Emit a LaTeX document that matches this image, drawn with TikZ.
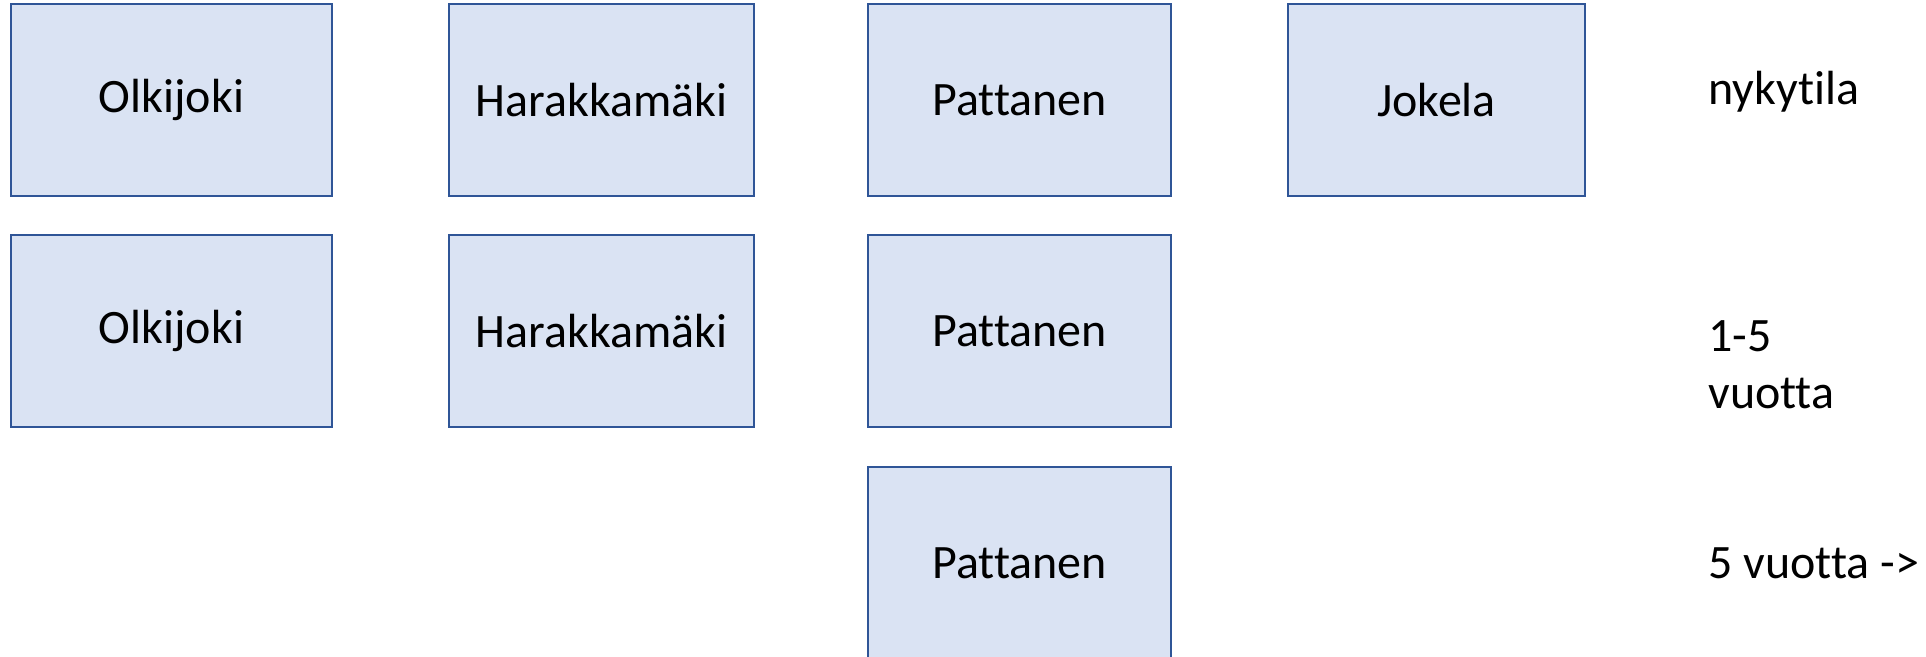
\documentclass[tikz,border=0pt]{standalone}
\usepackage{fontspec}
\setmainfont{Carlito}[Ligatures=NoCommon]
\usepackage{tikz}
\usetikzlibrary{positioning}
\definecolor{boxfill}{HTML}{DAE3F3}
\definecolor{boxline}{HTML}{2F5597}
\tikzset{%
  % Specifications for style of nodes:
        plant/.style = {rectangle, draw=boxline, fill=boxfill, line width=1.1pt,
                        minimum height=3.84cm, inner sep=0pt, outer sep=0pt,
                        text centered, font=\fontsize{27.3}{32.4}\selectfont},
     plantOlk/.style = {plant, minimum width=6.42cm},
     plantHar/.style = {plant, minimum width=6.10cm},
     plantPat/.style = {plant, minimum width=6.06cm},
     plantJok/.style = {plant, minimum width=5.94cm},
      period/.style = {inner sep=0pt, align=left, anchor=base west,
                        font=\fontsize{27.3}{32.4}\selectfont},
}

\begin{document}
\begin{tikzpicture}[x=0.02cm, y=-0.02cm]
  \clip (0,0) rectangle (1926,656);
  % Specification of nodes (position, etc.)
  \node (olkNow)  [plantOlk] at (171.5,100)  {Olkijoki};
  \node (harNow)  [plantHar] at (601.5,100)  {Harakkamäki};
  \node (patNow)  [plantPat] at (1019.5,100) {Pattanen};
  \node (jokNow)  [plantJok] at (1436.5,100) {Jokela};
  \node (olkMid)  [plantOlk] at (171.5,331)  {Olkijoki};
  \node (harMid)  [plantHar] at (601.5,331)  {Harakkamäki};
  \node (patMid)  [plantPat] at (1019.5,331) {Pattanen};
  \node (patLate) [plantPat] at (1019.5,563) {Pattanen};
  % time labels
  \node (onNow)  [period] at (1708,104) {nykytila};
  \node (onMid)  [period] at (1708,408) {1-5\\vuotta};
  \node (onLate) [period] at (1708,578) {5 vuotta ->};
\end{tikzpicture}
\end{document}
